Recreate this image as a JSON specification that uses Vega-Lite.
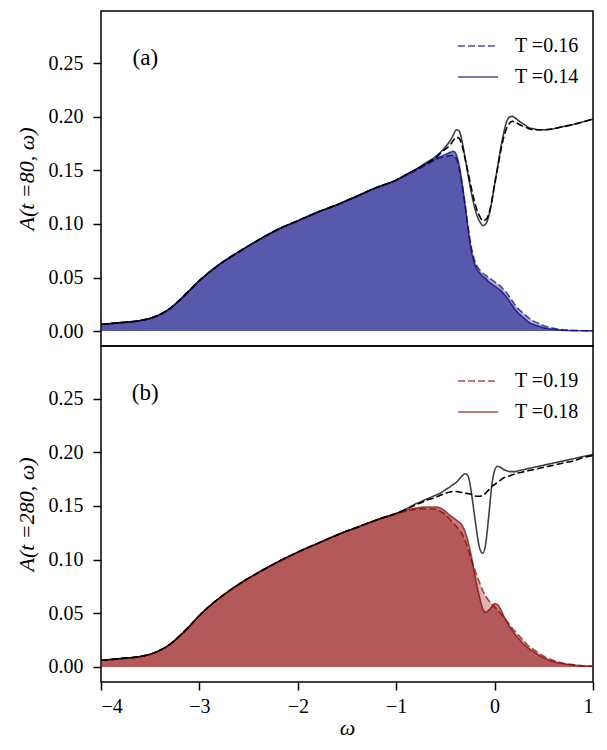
{
  "$schema": "https://vega.github.io/schema/vega-lite/v6.json",
  "description": "Spectral function A(t, omega) at two times, total and occupied parts for two temperatures.",
  "padding": {"left": 14, "top": 10, "right": 12, "bottom": 0},
  "background": "white",
  "spacing": 0,
  "bounds": "flush",
  "datasets": {
    "a": [
      {"x": -4.0, "t1": 0.0062, "t2": 0.0062, "o1": 0.0062, "o2": 0.0062},
      {"x": -3.8, "t1": 0.0078, "t2": 0.0078, "o1": 0.0078, "o2": 0.0078},
      {"x": -3.6, "t1": 0.0098, "t2": 0.0098, "o1": 0.0098, "o2": 0.0098},
      {"x": -3.5, "t1": 0.0118, "t2": 0.0118, "o1": 0.0118, "o2": 0.0118},
      {"x": -3.4, "t1": 0.0155, "t2": 0.0155, "o1": 0.0155, "o2": 0.0155},
      {"x": -3.3, "t1": 0.021, "t2": 0.021, "o1": 0.021, "o2": 0.021},
      {"x": -3.2, "t1": 0.029, "t2": 0.029, "o1": 0.029, "o2": 0.029},
      {"x": -3.1, "t1": 0.038, "t2": 0.038, "o1": 0.038, "o2": 0.038},
      {"x": -3.0, "t1": 0.047, "t2": 0.047, "o1": 0.047, "o2": 0.047},
      {"x": -2.8, "t1": 0.062, "t2": 0.062, "o1": 0.062, "o2": 0.062},
      {"x": -2.6, "t1": 0.074, "t2": 0.074, "o1": 0.074, "o2": 0.074},
      {"x": -2.4, "t1": 0.085, "t2": 0.085, "o1": 0.085, "o2": 0.085},
      {"x": -2.2, "t1": 0.095, "t2": 0.095, "o1": 0.095, "o2": 0.095},
      {"x": -2.0, "t1": 0.103, "t2": 0.103, "o1": 0.103, "o2": 0.103},
      {"x": -1.8, "t1": 0.111, "t2": 0.111, "o1": 0.111, "o2": 0.111},
      {"x": -1.6, "t1": 0.118, "t2": 0.118, "o1": 0.118, "o2": 0.118},
      {"x": -1.4, "t1": 0.126, "t2": 0.126, "o1": 0.126, "o2": 0.126},
      {"x": -1.2, "t1": 0.134, "t2": 0.134, "o1": 0.134, "o2": 0.134},
      {"x": -1.0, "t1": 0.141, "t2": 0.141, "o1": 0.141, "o2": 0.141},
      {"x": -0.9, "t1": 0.146, "t2": 0.146, "o1": 0.146, "o2": 0.1455},
      {"x": -0.8, "t1": 0.151, "t2": 0.151, "o1": 0.151, "o2": 0.150},
      {"x": -0.7, "t1": 0.157, "t2": 0.156, "o1": 0.156, "o2": 0.155},
      {"x": -0.6, "t1": 0.163, "t2": 0.162, "o1": 0.161, "o2": 0.160},
      {"x": -0.55, "t1": 0.167, "t2": 0.166, "o1": 0.163, "o2": 0.162},
      {"x": -0.5, "t1": 0.172, "t2": 0.170, "o1": 0.165, "o2": 0.163},
      {"x": -0.45, "t1": 0.178, "t2": 0.174, "o1": 0.167, "o2": 0.164},
      {"x": -0.42, "t1": 0.183, "t2": 0.178, "o1": 0.168, "o2": 0.164},
      {"x": -0.39, "t1": 0.188, "t2": 0.181, "o1": 0.165, "o2": 0.161},
      {"x": -0.36, "t1": 0.187, "t2": 0.180, "o1": 0.155, "o2": 0.152},
      {"x": -0.33, "t1": 0.177, "t2": 0.173, "o1": 0.138, "o2": 0.137},
      {"x": -0.3, "t1": 0.162, "t2": 0.161, "o1": 0.118, "o2": 0.118},
      {"x": -0.27, "t1": 0.146, "t2": 0.148, "o1": 0.096, "o2": 0.098},
      {"x": -0.24, "t1": 0.131, "t2": 0.135, "o1": 0.077, "o2": 0.080},
      {"x": -0.21, "t1": 0.118, "t2": 0.123, "o1": 0.065, "o2": 0.068},
      {"x": -0.18, "t1": 0.108, "t2": 0.113, "o1": 0.058, "o2": 0.061},
      {"x": -0.15, "t1": 0.102, "t2": 0.107, "o1": 0.054, "o2": 0.057},
      {"x": -0.12, "t1": 0.0985, "t2": 0.103, "o1": 0.051, "o2": 0.054},
      {"x": -0.09, "t1": 0.100, "t2": 0.104, "o1": 0.049, "o2": 0.052},
      {"x": -0.06, "t1": 0.107, "t2": 0.109, "o1": 0.046, "o2": 0.050},
      {"x": -0.03, "t1": 0.120, "t2": 0.121, "o1": 0.044, "o2": 0.048},
      {"x": 0.0, "t1": 0.137, "t2": 0.137, "o1": 0.042, "o2": 0.046},
      {"x": 0.03, "t1": 0.153, "t2": 0.152, "o1": 0.040, "o2": 0.044},
      {"x": 0.06, "t1": 0.170, "t2": 0.167, "o1": 0.038, "o2": 0.042},
      {"x": 0.09, "t1": 0.184, "t2": 0.180, "o1": 0.035, "o2": 0.039},
      {"x": 0.12, "t1": 0.195, "t2": 0.189, "o1": 0.032, "o2": 0.036},
      {"x": 0.15, "t1": 0.200, "t2": 0.194, "o1": 0.028, "o2": 0.032},
      {"x": 0.18, "t1": 0.2005, "t2": 0.196, "o1": 0.024, "o2": 0.028},
      {"x": 0.21, "t1": 0.199, "t2": 0.195, "o1": 0.020, "o2": 0.024},
      {"x": 0.25, "t1": 0.196, "t2": 0.193, "o1": 0.016, "o2": 0.020},
      {"x": 0.3, "t1": 0.193, "t2": 0.191, "o1": 0.012, "o2": 0.016},
      {"x": 0.35, "t1": 0.190, "t2": 0.189, "o1": 0.008, "o2": 0.012},
      {"x": 0.4, "t1": 0.189, "t2": 0.188, "o1": 0.006, "o2": 0.009},
      {"x": 0.45, "t1": 0.188, "t2": 0.188, "o1": 0.0045, "o2": 0.007},
      {"x": 0.5, "t1": 0.188, "t2": 0.188, "o1": 0.003, "o2": 0.005},
      {"x": 0.6, "t1": 0.189, "t2": 0.189, "o1": 0.0015, "o2": 0.0025},
      {"x": 0.7, "t1": 0.191, "t2": 0.191, "o1": 0.0007, "o2": 0.0012},
      {"x": 0.8, "t1": 0.193, "t2": 0.193, "o1": 0.0003, "o2": 0.0006},
      {"x": 0.9, "t1": 0.1955, "t2": 0.1955, "o1": 0.0002, "o2": 0.0003},
      {"x": 1.0, "t1": 0.198, "t2": 0.198, "o1": 0.0001, "o2": 0.0002}
    ],
    "b": [
      {"x": -4.0, "t1": 0.0062, "t2": 0.0062, "o1": 0.0062, "o2": 0.0062},
      {"x": -3.8, "t1": 0.0078, "t2": 0.0078, "o1": 0.0078, "o2": 0.0078},
      {"x": -3.6, "t1": 0.0098, "t2": 0.0098, "o1": 0.0098, "o2": 0.0098},
      {"x": -3.5, "t1": 0.0118, "t2": 0.0118, "o1": 0.0118, "o2": 0.0118},
      {"x": -3.4, "t1": 0.0155, "t2": 0.0155, "o1": 0.0155, "o2": 0.0155},
      {"x": -3.3, "t1": 0.021, "t2": 0.021, "o1": 0.021, "o2": 0.021},
      {"x": -3.2, "t1": 0.029, "t2": 0.029, "o1": 0.029, "o2": 0.029},
      {"x": -3.1, "t1": 0.038, "t2": 0.038, "o1": 0.038, "o2": 0.038},
      {"x": -3.0, "t1": 0.048, "t2": 0.048, "o1": 0.048, "o2": 0.048},
      {"x": -2.8, "t1": 0.064, "t2": 0.064, "o1": 0.064, "o2": 0.064},
      {"x": -2.6, "t1": 0.077, "t2": 0.077, "o1": 0.077, "o2": 0.077},
      {"x": -2.4, "t1": 0.088, "t2": 0.088, "o1": 0.088, "o2": 0.088},
      {"x": -2.2, "t1": 0.098, "t2": 0.098, "o1": 0.098, "o2": 0.098},
      {"x": -2.0, "t1": 0.107, "t2": 0.107, "o1": 0.107, "o2": 0.107},
      {"x": -1.8, "t1": 0.115, "t2": 0.115, "o1": 0.115, "o2": 0.115},
      {"x": -1.6, "t1": 0.123, "t2": 0.123, "o1": 0.123, "o2": 0.123},
      {"x": -1.4, "t1": 0.130, "t2": 0.130, "o1": 0.130, "o2": 0.130},
      {"x": -1.2, "t1": 0.137, "t2": 0.137, "o1": 0.137, "o2": 0.137},
      {"x": -1.0, "t1": 0.143, "t2": 0.143, "o1": 0.143, "o2": 0.143},
      {"x": -0.9, "t1": 0.147, "t2": 0.147, "o1": 0.146, "o2": 0.145},
      {"x": -0.8, "t1": 0.152, "t2": 0.151, "o1": 0.148, "o2": 0.147},
      {"x": -0.7, "t1": 0.156, "t2": 0.155, "o1": 0.149, "o2": 0.1475},
      {"x": -0.6, "t1": 0.160, "t2": 0.158, "o1": 0.149, "o2": 0.147},
      {"x": -0.55, "t1": 0.162, "t2": 0.160, "o1": 0.148, "o2": 0.145},
      {"x": -0.5, "t1": 0.165, "t2": 0.162, "o1": 0.145, "o2": 0.142},
      {"x": -0.45, "t1": 0.168, "t2": 0.163, "o1": 0.141, "o2": 0.137},
      {"x": -0.42, "t1": 0.170, "t2": 0.1635, "o1": 0.139, "o2": 0.134},
      {"x": -0.39, "t1": 0.172, "t2": 0.1635, "o1": 0.137, "o2": 0.131},
      {"x": -0.36, "t1": 0.175, "t2": 0.163, "o1": 0.135, "o2": 0.128},
      {"x": -0.33, "t1": 0.178, "t2": 0.1625, "o1": 0.132, "o2": 0.124},
      {"x": -0.3, "t1": 0.180, "t2": 0.162, "o1": 0.126, "o2": 0.118},
      {"x": -0.27, "t1": 0.178, "t2": 0.1615, "o1": 0.117, "o2": 0.110},
      {"x": -0.24, "t1": 0.165, "t2": 0.161, "o1": 0.105, "o2": 0.101},
      {"x": -0.21, "t1": 0.145, "t2": 0.160, "o1": 0.090, "o2": 0.093},
      {"x": -0.18, "t1": 0.125, "t2": 0.159, "o1": 0.076, "o2": 0.085},
      {"x": -0.15, "t1": 0.110, "t2": 0.159, "o1": 0.064, "o2": 0.078},
      {"x": -0.12, "t1": 0.106, "t2": 0.160, "o1": 0.054, "o2": 0.071},
      {"x": -0.09, "t1": 0.115, "t2": 0.162, "o1": 0.051, "o2": 0.066},
      {"x": -0.06, "t1": 0.140, "t2": 0.165, "o1": 0.053, "o2": 0.062},
      {"x": -0.03, "t1": 0.168, "t2": 0.168, "o1": 0.056, "o2": 0.059},
      {"x": 0.0, "t1": 0.183, "t2": 0.170, "o1": 0.059, "o2": 0.056},
      {"x": 0.03, "t1": 0.187, "t2": 0.172, "o1": 0.058, "o2": 0.053},
      {"x": 0.06, "t1": 0.186, "t2": 0.174, "o1": 0.054, "o2": 0.050},
      {"x": 0.09, "t1": 0.184, "t2": 0.176, "o1": 0.048, "o2": 0.047},
      {"x": 0.12, "t1": 0.183, "t2": 0.177, "o1": 0.043, "o2": 0.043},
      {"x": 0.15, "t1": 0.182, "t2": 0.178, "o1": 0.038, "o2": 0.040},
      {"x": 0.18, "t1": 0.182, "t2": 0.179, "o1": 0.034, "o2": 0.036},
      {"x": 0.21, "t1": 0.182, "t2": 0.180, "o1": 0.030, "o2": 0.033},
      {"x": 0.25, "t1": 0.183, "t2": 0.181, "o1": 0.026, "o2": 0.029},
      {"x": 0.3, "t1": 0.184, "t2": 0.182, "o1": 0.021, "o2": 0.024},
      {"x": 0.35, "t1": 0.185, "t2": 0.183, "o1": 0.017, "o2": 0.019},
      {"x": 0.4, "t1": 0.186, "t2": 0.184, "o1": 0.014, "o2": 0.016},
      {"x": 0.45, "t1": 0.187, "t2": 0.185, "o1": 0.011, "o2": 0.013},
      {"x": 0.5, "t1": 0.188, "t2": 0.186, "o1": 0.0085, "o2": 0.010},
      {"x": 0.6, "t1": 0.190, "t2": 0.188, "o1": 0.005, "o2": 0.006},
      {"x": 0.7, "t1": 0.192, "t2": 0.190, "o1": 0.003, "o2": 0.0035},
      {"x": 0.8, "t1": 0.194, "t2": 0.192, "o1": 0.0018, "o2": 0.002},
      {"x": 0.9, "t1": 0.196, "t2": 0.195, "o1": 0.001, "o2": 0.0012},
      {"x": 1.0, "t1": 0.198, "t2": 0.197, "o1": 0.0007, "o2": 0.0008}
    ]
  },
  "vconcat": [
    {
      "width": 492,
      "height": 335,
      "data": {"name": "a"},
      "encoding": {
        "x": {"field": "x", "type": "quantitative", "scale": {"domain": [-4, 1], "nice": false}, "axis": null}
      },
      "layer": [
        {
          "mark": {"type": "area", "color": "#000080", "fillOpacity": 0.3, "interpolate": "monotone"},
          "encoding": {
            "y": {
              "field": "o2", "type": "quantitative", "title": "A(t =80, ω)",
              "scale": {"domain": [-0.014, 0.299], "nice": false},
              "axis": {"values": [0, 0.05, 0.1, 0.15, 0.2, 0.25], "format": ".2f"}
            },
            "y2": {"datum": 0}
          }
        },
        {
          "mark": {"type": "area", "color": "#000080", "fillOpacity": 0.5, "interpolate": "monotone"},
          "encoding": {"y": {"field": "o1", "type": "quantitative", "title": "A(t =80, ω)"}, "y2": {"datum": 0}}
        },
        {
          "mark": {"type": "rule", "color": "#000080", "opacity": 0.8, "strokeWidth": 1.5},
          "encoding": {"y": {"datum": 0}}
        },
        {
          "transform": [{"fold": ["o2", "o1"], "as": ["key", "val"]}],
          "mark": {"type": "line", "color": "#000080", "opacity": 0.7, "strokeWidth": 1.6, "interpolate": "monotone"},
          "encoding": {
            "y": {"field": "val", "type": "quantitative", "title": "A(t =80, ω)"},
            "strokeDash": {
              "field": "key", "type": "nominal",
              "scale": {"domain": ["o2", "o1"], "range": [[7, 3], [1, 0]]},
              "legend": {
                "title": null, "orient": "top-right", "offset": 14, "padding": 0,
                "symbolType": "stroke", "symbolSize": 1600, "symbolStrokeWidth": 1.6,
                "symbolStrokeColor": "#000080", "symbolOpacity": 0.7,
                "labelFont": "Liberation Serif", "labelFontSize": 20, "labelOffset": 16,
                "labelColor": "black", "rowPadding": 0,
                "labelExpr": "datum.label == 'o2' ? 'T =0.16' : 'T =0.14'"
              }
            }
          }
        },
        {
          "mark": {"type": "line", "color": "black", "strokeDash": [7, 3], "strokeWidth": 1.6, "interpolate": "monotone"},
          "encoding": {"y": {"field": "t2", "type": "quantitative", "title": "A(t =80, ω)"}}
        },
        {
          "mark": {"type": "line", "color": "black", "opacity": 0.75, "strokeWidth": 1.6, "interpolate": "monotone"},
          "encoding": {"y": {"field": "t1", "type": "quantitative", "title": "A(t =80, ω)"}}
        },
        {
          "transform": [{"filter": "datum.x == -4"}],
          "mark": {"type": "text", "text": "(a)", "font": "Liberation Serif", "fontSize": 23, "color": "black", "align": "center", "baseline": "middle"},
          "encoding": {"x": {"datum": -3.55}, "y": {"datum": 0.255}}
        }
      ]
    },
    {
      "width": 492,
      "height": 336,
      "data": {"name": "b"},
      "encoding": {
        "x": {
          "field": "x", "type": "quantitative", "title": "ω",
          "scale": {"domain": [-4, 1], "nice": false},
          "axis": {"values": [-4, -3, -2, -1, 0, 1], "format": "d", "titleFontStyle": "italic", "labelPadding": 6, "titlePadding": 1}
        }
      },
      "layer": [
        {
          "mark": {"type": "area", "color": "#8b0000", "fillOpacity": 0.3, "interpolate": "monotone"},
          "encoding": {
            "y": {
              "field": "o2", "type": "quantitative", "title": "A(t =280, ω)",
              "scale": {"domain": [-0.014, 0.299], "nice": false},
              "axis": {"values": [0, 0.05, 0.1, 0.15, 0.2, 0.25], "format": ".2f"}
            },
            "y2": {"datum": 0}
          }
        },
        {
          "mark": {"type": "area", "color": "#8b0000", "fillOpacity": 0.5, "interpolate": "monotone"},
          "encoding": {"y": {"field": "o1", "type": "quantitative", "title": "A(t =280, ω)"}, "y2": {"datum": 0}}
        },
        {
          "mark": {"type": "rule", "color": "#8b0000", "opacity": 0.8, "strokeWidth": 1.5},
          "encoding": {"y": {"datum": 0}}
        },
        {
          "transform": [{"fold": ["o2", "o1"], "as": ["key", "val"]}],
          "mark": {"type": "line", "color": "#8b0000", "opacity": 0.7, "strokeWidth": 1.6, "interpolate": "monotone"},
          "encoding": {
            "y": {"field": "val", "type": "quantitative", "title": "A(t =280, ω)"},
            "strokeDash": {
              "field": "key", "type": "nominal",
              "scale": {"domain": ["o2", "o1"], "range": [[7, 3], [1, 0]]},
              "legend": {
                "title": null, "orient": "top-right", "offset": 14, "padding": 0,
                "symbolType": "stroke", "symbolSize": 1600, "symbolStrokeWidth": 1.6,
                "symbolStrokeColor": "#8b0000", "symbolOpacity": 0.7,
                "labelFont": "Liberation Serif", "labelFontSize": 20, "labelOffset": 16,
                "labelColor": "black", "rowPadding": 0,
                "labelExpr": "datum.label == 'o2' ? 'T =0.19' : 'T =0.18'"
              }
            }
          }
        },
        {
          "mark": {"type": "line", "color": "black", "strokeDash": [7, 3], "strokeWidth": 1.6, "interpolate": "monotone"},
          "encoding": {"y": {"field": "t2", "type": "quantitative", "title": "A(t =280, ω)"}}
        },
        {
          "mark": {"type": "line", "color": "black", "opacity": 0.75, "strokeWidth": 1.6, "interpolate": "monotone"},
          "encoding": {"y": {"field": "t1", "type": "quantitative", "title": "A(t =280, ω)"}}
        },
        {
          "transform": [{"filter": "datum.x == -4"}],
          "mark": {"type": "text", "text": "(b)", "font": "Liberation Serif", "fontSize": 23, "color": "black", "align": "center", "baseline": "middle"},
          "encoding": {"x": {"datum": -3.55}, "y": {"datum": 0.255}}
        }
      ]
    }
  ],
  "resolve": {
    "scale": {"strokeDash": "independent"},
    "legend": {"strokeDash": "independent"}
  },
  "config": {
    "view": {"stroke": "black", "strokeWidth": 1.5},
    "axis": {
      "domain": false,
      "grid": false,
      "ticks": true,
      "tickColor": "black",
      "tickWidth": 1.5,
      "tickSize": 8,
      "labelFont": "Liberation Serif",
      "labelFontSize": 20,
      "labelColor": "black",
      "labelPadding": 10,
      "titleFont": "Liberation Serif",
      "titleFontSize": 22,
      "titleFontWeight": "normal",
      "titleFontStyle": "italic",
      "titleColor": "black",
      "titlePadding": 10
    }
  }
}
